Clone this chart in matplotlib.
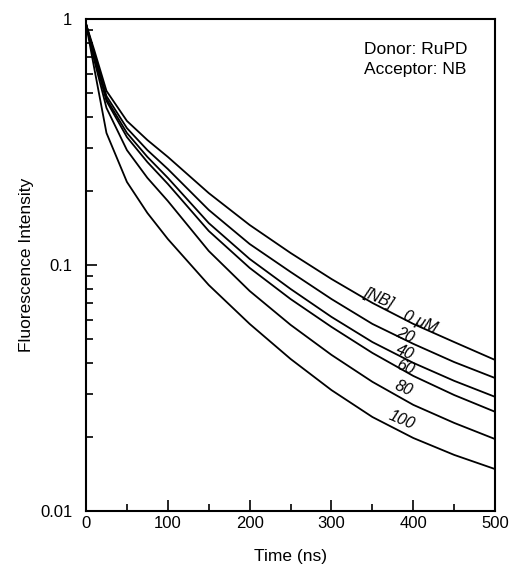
import numpy as np
import matplotlib
matplotlib.use("Agg")
import matplotlib.pyplot as plt
from matplotlib.ticker import FixedLocator, LogLocator, MultipleLocator, NullFormatter

plt.rcParams['font.family'] = ['Liberation Sans', 'DejaVu Sans']

# time axis (ns)
time = [0, 10, 25, 50, 75, 100, 150, 200, 250, 300, 350, 400, 450, 500]

# fluorescence decays, one per [NB] concentration
nb_0 = [0.954, 0.748, 0.510, 0.385, 0.322, 0.275, 0.196, 0.1454, 0.1119, 0.0877, 0.0701, 0.0576, 0.0486, 0.0411]
nb_20 = [0.954, 0.727, 0.486, 0.360, 0.293, 0.2455, 0.1674, 0.1217, 0.0937, 0.0727, 0.0576, 0.0478, 0.0403, 0.0347]
nb_40 = [0.954, 0.714, 0.473, 0.344, 0.275, 0.226, 0.148, 0.1058, 0.0799, 0.0615, 0.0486, 0.0400, 0.0338, 0.0291]
nb_60 = [0.954, 0.707, 0.464, 0.331, 0.262, 0.2135, 0.1375, 0.0973, 0.0727, 0.056, 0.0439, 0.0354, 0.0296, 0.0253]
nb_80 = [0.954, 0.681, 0.435, 0.293, 0.226, 0.182, 0.114, 0.0784, 0.0571, 0.0431, 0.0335, 0.0270, 0.0228, 0.0196]
nb_100 = [0.954, 0.632, 0.344, 0.2175, 0.1627, 0.1275, 0.0829, 0.0576, 0.0415, 0.0310, 0.0241, 0.0198, 0.0169, 0.0148]

series = [nb_0, nb_20, nb_40, nb_60, nb_80, nb_100]
labels = ["[NB]", "0 \u03bcM", "20", "40", "60", "80", "100"]
# label anchors in data coords (time, intensity)
label_t = [357, 408, 390, 390, 390, 388, 386]
label_v = [0.0735, 0.0586, 0.0519, 0.0443, 0.0385, 0.0316, 0.0234]

fig = plt.figure(figsize=(5.12, 5.68), dpi=100)
ax = fig.add_axes([0.168, 0.1004, 0.799, 0.8662])

for s in series:
    ax.plot(time, s, color='black', lw=1.3)

for lab, t, v in zip(labels, label_t, label_v):
    ax.text(t, v, lab, rotation=-23, ha='center', va='center', fontsize=11.5,
            style='italic', rotation_mode='anchor')

ax.text(0.68, 0.953, "Donor: RuPD", transform=ax.transAxes, fontsize=12.5, va='top')
ax.text(0.68, 0.913, "Acceptor: NB", transform=ax.transAxes, fontsize=12.5, va='top')

ax.set_yscale('log')
ax.set_xlim(0, 500)
ax.set_ylim(0.01, 1)
ax.xaxis.set_major_locator(MultipleLocator(100))
ax.xaxis.set_minor_locator(MultipleLocator(50))
ax.yaxis.set_major_locator(FixedLocator([0.01, 0.1, 1]))
ax.set_yticklabels(["0.01", "0.1", "1"])
ax.yaxis.set_minor_locator(LogLocator(base=10, subs=np.arange(2, 10)))
ax.yaxis.set_minor_formatter(NullFormatter())

ax.tick_params(which='both', direction='in', top=False, right=False, labelsize=12, width=1.2)
ax.tick_params(which='major', length=8)
ax.tick_params(which='minor', length=5)
ax.tick_params(axis='y', which='major', pad=10)
for sp in ax.spines.values():
    sp.set_linewidth(1.5)

ax.set_xlabel("Time (ns)", fontsize=12.5, labelpad=13)
ax.set_ylabel("Fluorescence Intensity", fontsize=12.5, labelpad=4)

fig.savefig("out.png", dpi=100)
